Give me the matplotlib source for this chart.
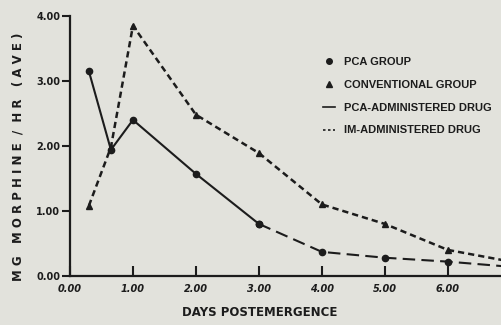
import matplotlib.pyplot as plt
from matplotlib.lines import Line2D

# --------------------------
# Data
# --------------------------
DAYS = [0.3, 0.65, 1.0, 2.0, 3.0, 4.0, 5.0, 6.0, 7.0]
PCA_GROUP = [3.15, 1.94, 2.40, 1.57, 0.80, 0.37, 0.28, 0.22, 0.14]
CONV_GROUP = [1.08, 1.98, 3.85, 2.48, 1.89, 1.10, 0.80, 0.40, 0.22]
PCA_SOLID_UPTO = 5          # PCA line is solid up to day 3, dashed after

X_TICKS = [0, 1, 2, 3, 4, 5, 6]
Y_TICKS = [0, 1, 2, 3, 4]
LEGEND_LABELS = ["PCA GROUP", "CONVENTIONAL GROUP",
                 "PCA-ADMINISTERED DRUG", "IM-ADMINISTERED DRUG"]

PAPER = "#e2e2dc"
INK = "#1c1c1c"

fig = plt.figure(figsize=(5.02, 3.25), dpi=100, facecolor=PAPER)
ax = fig.add_axes([0.1394, 0.151, 0.8606, 0.80])
ax.set_facecolor(PAPER)

# PCA group: solid, then long dashes
ax.plot(DAYS[:PCA_SOLID_UPTO], PCA_GROUP[:PCA_SOLID_UPTO], color=INK, lw=1.5,
        marker="o", ms=4.5)
ax.plot(DAYS[PCA_SOLID_UPTO - 1:], PCA_GROUP[PCA_SOLID_UPTO - 1:], color=INK,
        lw=1.5, dashes=(6, 3), marker="o", ms=4.5)
# conventional group: short dashes
ax.plot(DAYS, CONV_GROUP, color=INK, lw=1.8, dashes=(2.5, 1.6),
        marker="^", ms=5)

ax.set_xlim(0, 6.86)
ax.set_ylim(0, 4.0)
ax.set_xticks(X_TICKS)
ax.set_yticks(Y_TICKS)
ax.set_xticklabels([f"{v:.2f}" for v in X_TICKS], fontsize=7, fontweight="bold",
                   fontstyle="italic", color=INK)
ax.set_yticklabels([f"{v:.2f}" for v in Y_TICKS], fontsize=7, fontweight="bold",
                   color=INK)
ax.tick_params(axis="x", direction="in", length=7, width=1.5, pad=6, color=INK)
ax.tick_params(axis="y", direction="out", length=6, width=1.5, pad=1, color=INK)
for s in ("top", "right"):
    ax.spines[s].set_visible(False)
for s in ("left", "bottom"):
    ax.spines[s].set_linewidth(1.6)
    ax.spines[s].set_color(INK)

fig.text(0.036, 0.517, "M G   M O R P H I N E  /  H R   ( A V E )", rotation=90,
         ha="center", va="center", fontsize=8.5, fontweight="bold", color=INK)
fig.text(0.518, 0.037, "DAYS POSTEMERGENCE", ha="center", va="center",
         fontsize=8.5, fontweight="bold", color=INK)

handles = [
    Line2D([], [], color=INK, marker="o", ls="none", ms=4),
    Line2D([], [], color=INK, marker="^", ls="none", ms=5),
    Line2D([], [], color=INK, lw=1.2),
    Line2D([], [], color=INK, lw=1.2, dashes=(1.5, 1.5)),
]
leg = fig.legend(handles, LEGEND_LABELS, loc="upper left",
                 bbox_to_anchor=(0.635, 0.838), frameon=False,
                 prop={"family": "Liberation Sans", "size": 8, "weight": "bold"},
                 handlelength=1.1, handletextpad=0.8, labelspacing=1.15,
                 borderaxespad=0)
for t in leg.get_texts():
    t.set_color(INK)

fig.savefig("out.png", dpi=100, facecolor=PAPER)
